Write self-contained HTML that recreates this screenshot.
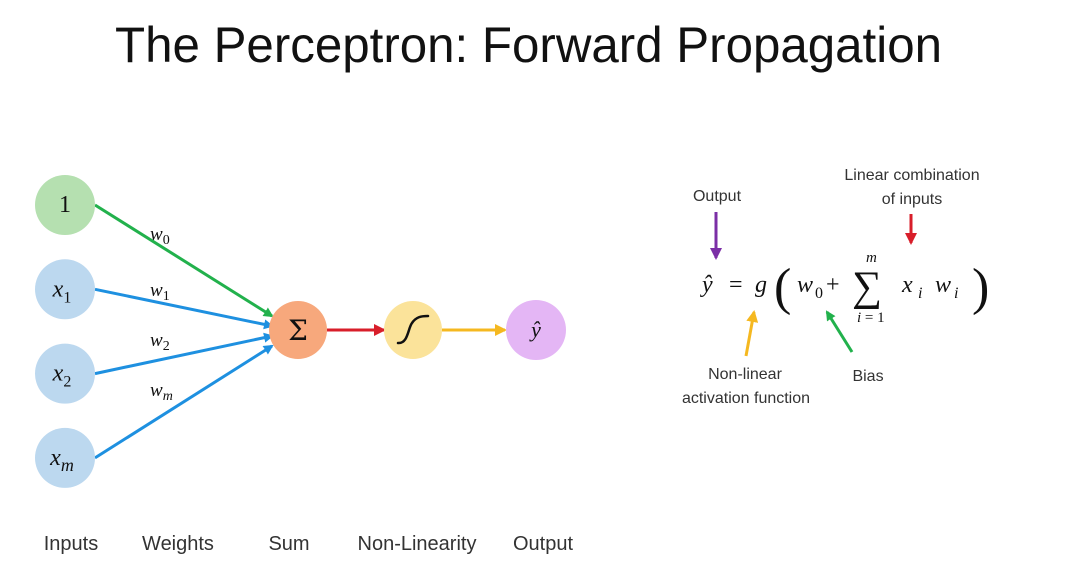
<!DOCTYPE html>
<html><head><meta charset="utf-8"><style>
html,body{margin:0;padding:0;background:#fff;}
svg{display:block;}
.lbl{font-family:"Liberation Sans",sans-serif;fill:#333;}
.m{font-family:"Liberation Serif",serif;font-style:italic;fill:#111;}
</style></head><body>
<svg id="s" width="1090" height="588" viewBox="0 0 1090 588" xmlns="http://www.w3.org/2000/svg">
<defs>
<marker id="ag" markerWidth="10" markerHeight="10" refX="8" refY="5" orient="auto" markerUnits="userSpaceOnUse"><path d="M0,0 L10,5 L0,10 z" fill="#22b14c"/></marker>
<marker id="ab" markerWidth="10" markerHeight="10" refX="8" refY="5" orient="auto" markerUnits="userSpaceOnUse"><path d="M0,0 L10,5 L0,10 z" fill="#1e90e0"/></marker>
<marker id="ar" markerWidth="12" markerHeight="12" refX="10" refY="6" orient="auto" markerUnits="userSpaceOnUse"><path d="M0,0 L12,6 L0,12 z" fill="#d81e2a"/></marker>
<marker id="ay" markerWidth="12" markerHeight="12" refX="10" refY="6" orient="auto" markerUnits="userSpaceOnUse"><path d="M0,0 L12,6 L0,12 z" fill="#f5b820"/></marker>
<marker id="ap" markerWidth="12" markerHeight="12" refX="10" refY="6" orient="auto" markerUnits="userSpaceOnUse"><path d="M0,0 L12,6 L0,12 z" fill="#7b2fa6"/></marker>
</defs>
<text class="lbl" x="115" y="62" font-size="50" style="fill:#111" textLength="827" lengthAdjust="spacingAndGlyphs">The Perceptron: Forward Propagation</text>
<g id="net"></g>

<g>
<text class="m" x="702" y="292" font-size="24">ŷ</text>
<text class="m" x="729" y="292" font-size="24" style="font-style:normal">=</text>
<text class="m" x="755" y="292" font-size="24">g</text>
<text class="m" x="774" y="304" font-size="52" style="font-style:normal">(</text>
<text class="m" x="797" y="292" font-size="24">w</text>
<text class="m" x="815" y="298" font-size="16" style="font-style:normal">0</text>
<text class="m" x="826" y="292" font-size="24" style="font-style:normal">+</text>
<text class="m" x="852" y="300" font-size="42" style="font-style:normal">∑</text>
<text class="m" x="866" y="262" font-size="15">m</text>
<text class="m" x="857" y="322" font-size="15">i <tspan style="font-style:normal">= 1</tspan></text>
<text class="m" x="902" y="292" font-size="24">x</text>
<text class="m" x="918" y="298" font-size="16">i</text>
<text class="m" x="935" y="292" font-size="24">w</text>
<text class="m" x="954" y="298" font-size="16">i</text>
<text class="m" x="972" y="304" font-size="52" style="font-style:normal">)</text>
</g>
<g>
<text class="lbl" x="717" y="201" font-size="16" text-anchor="middle">Output</text>
<line x1="716" y1="212" x2="716" y2="258" stroke="#7b2fa6" stroke-width="3" marker-end="url(#ap)"/>
<text class="lbl" x="912" y="180" font-size="16" text-anchor="middle">Linear combination</text>
<text class="lbl" x="912" y="204" font-size="16" text-anchor="middle">of inputs</text>
<line x1="911" y1="214" x2="911" y2="243" stroke="#d81e2a" stroke-width="3" marker-end="url(#ar)"/>
<line x1="746" y1="356" x2="754" y2="312" stroke="#f5b820" stroke-width="3" marker-end="url(#ay)"/>
<text class="lbl" x="745" y="379" font-size="16" text-anchor="middle">Non-linear</text>
<text class="lbl" x="746" y="403" font-size="16" text-anchor="middle">activation function</text>
<line x1="852" y1="352" x2="827" y2="312" stroke="#22b14c" stroke-width="3" marker-end="url(#ag)"/>
<text class="lbl" x="868" y="381" font-size="16" text-anchor="middle">Bias</text>
</g>
<script>
const nodeLabels=["1","x1","x2","xm"];
const nodeColors=["#b5e0b0","#bcd8ef","#bcd8ef","#bcd8ef"];
const weightLabels=["0","1","2","m"];
const stageLabels=["Inputs","Weights","Sum","Non-Linearity","Output"];
const g=document.getElementById('net');
const NS="http://www.w3.org/2000/svg";
function mk(t,a,p){const e=document.createElementNS(NS,t);for(const k in a)e.setAttribute(k,a[k]);(p||g).appendChild(e);return e;}
function sub(parent,txt,size,dy,italic){const ts=mk('tspan',{'font-size':size,dy:dy},parent);ts.setAttribute('style','font-style:'+(italic?'italic':'normal'));ts.textContent=txt;return ts;}
const inX=65,inY0=205,inDy=84.3,R=30;
const sumX=298,sigX=413,outX=536,midY=330;
nodeLabels.forEach((lab,i)=>{
  const y=inY0+i*inDy;
  const tx=sumX-26, ty=midY+(i-1.4)*10;
  const ln=mk('line',{x1:inX+R,y1:y,x2:tx,y2:ty,stroke:i==0?'#22b14c':'#1e90e0','stroke-width':3,'marker-end':i==0?'url(#ag)':'url(#ab)'});
  
  
  const c=mk('circle',{cx:inX,cy:y,r:R,fill:nodeColors[i]});
  
  
  const t=mk('text',{x:inX-3,y:y+7,'text-anchor':'middle','font-size':24,class:'m'});
  
  
  if(i==0){t.textContent="1";t.setAttribute('style','font-style:normal');t.setAttribute('x',inX);}
  else{const s=lab.slice(1);const a=mk('tspan',{},t);a.textContent='x';sub(t,s,s=='m'?18:16,6,s=='m');}
  const w=mk('text',{x:150,y:[240,296,346,396][i],'font-size':19,class:'m'});
  
  
  const wa=mk('tspan',{},w);wa.textContent='w';
  sub(w,weightLabels[i],14,4,weightLabels[i]=='m');
});
let e=mk('line',{x1:sumX+29,y1:midY,x2:sigX-29,y2:midY,stroke:'#d81e2a','stroke-width':3,'marker-end':'url(#ar)'});


e=mk('line',{x1:sigX+29,y1:midY,x2:outX-31,y2:midY,stroke:'#f5b820','stroke-width':3,'marker-end':'url(#ay)'});


e=mk('circle',{cx:sumX,cy:midY,r:29,fill:'#f7a87c'});


e=mk('text',{x:sumX,y:midY+10,'text-anchor':'middle','font-size':28,fill:'#111','font-family':'DejaVu Serif, serif'});
e.textContent='Σ';


e=mk('circle',{cx:sigX,cy:midY,r:29,fill:'#fbe39a'});


e=mk('path',{d:`M${sigX-15},${midY+13} C${sigX-5},${midY+14} ${sigX-5},${midY-2} ${sigX-1},${midY-7} C${sigX+3},${midY-13} ${sigX+8},${midY-14} ${sigX+15},${midY-14}`,stroke:'#111','stroke-width':2.5,fill:'none','stroke-linecap':'round'});


e=mk('circle',{cx:outX,cy:midY,r:30,fill:'#e4b6f5'});


e=mk('text',{x:outX,y:midY+7,'text-anchor':'middle','font-size':22,class:'m'});
e.textContent='ŷ';


const stageX=[71,178,289,417,543];
stageLabels.forEach((s,i)=>{
  const t=mk('text',{x:stageX[i],y:550,'text-anchor':'middle','font-size':20,class:'lbl'});
  t.textContent=s;
  
  
});
</script>
</svg>
</body></html>
